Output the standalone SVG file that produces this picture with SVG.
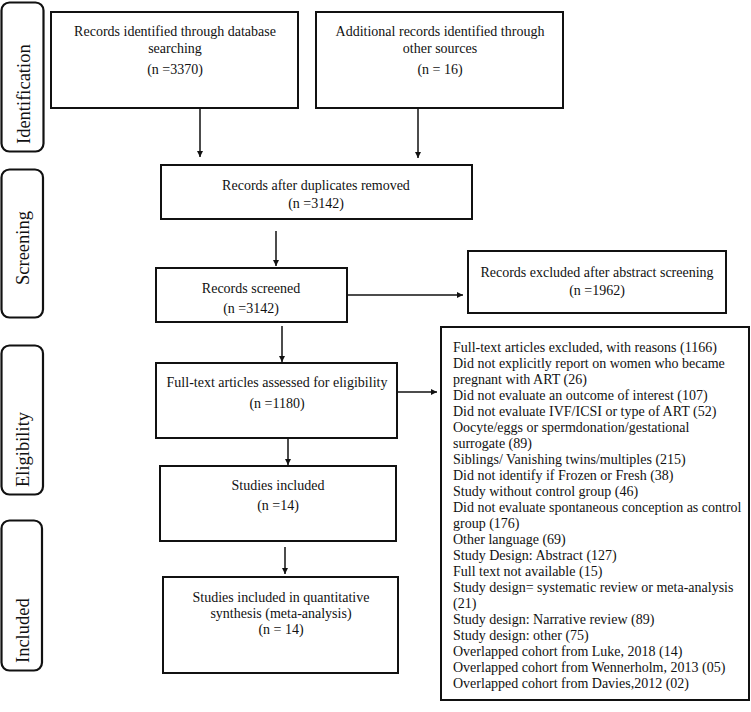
<svg xmlns="http://www.w3.org/2000/svg" width="751" height="712" viewBox="0 0 751 712">
<style>
text{font-family:"Liberation Serif","Times New Roman",serif;font-size:14px;fill:#111}
.c{text-anchor:middle}
.side{font-size:18.5px}
.box{fill:#fff;stroke:#111;stroke-width:2}
.sb{fill:#fff;stroke:#111;stroke-width:2.2}
.ln{stroke:#111;stroke-width:1.5;fill:none}
</style>
<defs>
<marker id="ah" viewBox="0 0 10 10" refX="10" refY="5" markerWidth="6" markerHeight="6" markerUnits="userSpaceOnUse" orient="auto">
<path d="M0,0 L10,5 L0,10 z" fill="#111"/>
</marker>
</defs>
<rect width="751" height="712" fill="#fff"/>

<g id="side-identification"><rect class="sb" x="1.5" y="2.5" width="42" height="149" rx="8"/><text class="side" transform="translate(30,144) rotate(-90)">Identification</text></g>
<g id="side-screening"><rect class="sb" x="1.5" y="169.5" width="41.5" height="148" rx="8"/><text class="side" transform="translate(29,285) rotate(-90)">Screening</text></g>
<g id="side-eligibility"><rect class="sb" x="1.5" y="345.5" width="41.5" height="149" rx="8"/><text class="side" transform="translate(29,487) rotate(-90)">Eligibility</text></g>
<g id="side-included"><rect class="sb" x="1.5" y="520.5" width="40.5" height="150" rx="8"/><text class="side" transform="translate(29,663) rotate(-90)">Included</text></g>

<g id="connectors">
<line class="ln" x1="200" y1="108" x2="200" y2="157" marker-end="url(#ah)"/>
<line class="ln" x1="418" y1="108" x2="418" y2="158" marker-end="url(#ah)"/>
<line class="ln" x1="276" y1="231" x2="276" y2="266" marker-end="url(#ah)"/>
<line class="ln" x1="343" y1="295" x2="463" y2="295" marker-end="url(#ah)"/>
<line class="ln" x1="282" y1="326" x2="282" y2="362" marker-end="url(#ah)"/>
<line class="ln" x1="397" y1="392" x2="437" y2="392" marker-end="url(#ah)"/>
<line class="ln" x1="288" y1="438" x2="288" y2="465" marker-end="url(#ah)"/>
<line class="ln" x1="285" y1="547" x2="285" y2="574" marker-end="url(#ah)"/>
</g>

<g id="db-records"><rect class="box" x="51" y="12" width="247" height="96"/>
<text class="c" x="175" y="36">Records identified through database</text>
<text class="c" x="175" y="53">searching</text>
<text class="c" x="175" y="74">(n =3370)</text></g>

<g id="other-records"><rect class="box" x="316" y="12" width="247" height="96"/>
<text class="c" x="440" y="36">Additional records identified through</text>
<text class="c" x="440" y="53">other sources</text>
<text class="c" x="440" y="74">(n = 16)</text></g>

<g id="duplicates-removed"><rect class="box" x="161" y="165" width="311" height="54"/>
<text class="c" x="316" y="190">Records after duplicates removed</text>
<text class="c" x="316" y="208">(n =3142)</text></g>

<g id="records-screened"><rect class="box" x="156" y="268" width="191" height="54"/>
<text class="c" x="251" y="293">Records screened</text>
<text class="c" x="251" y="313">(n =3142)</text></g>

<g id="records-excluded"><rect class="box" x="468" y="251" width="258" height="62"/>
<text class="c" x="597" y="277">Records excluded after abstract screening</text>
<text class="c" x="597" y="295">(n =1962)</text></g>

<g id="fulltext-assessed"><rect class="box" x="156" y="363" width="241" height="75"/>
<text class="c" x="277" y="387">Full-text articles assessed for eligibility</text>
<text class="c" x="277" y="408">(n =1180)</text></g>

<g id="fulltext-excluded"><rect class="box" x="441" y="327" width="308" height="373"/>
<text x="453" y="352">Full-text articles excluded, with reasons (1166)</text>
<text x="453" y="368">Did not explicitly report on women who became</text>
<text x="453" y="384">pregnant with ART (26)</text>
<text x="453" y="400">Did not evaluate an outcome of interest (107)</text>
<text x="453" y="416">Did not evaluate IVF/ICSI or type of ART (52)</text>
<text x="453" y="432">Oocyte/eggs or spermdonation/gestational</text>
<text x="453" y="448">surrogate (89)</text>
<text x="453" y="464">Siblings/ Vanishing twins/multiples (215)</text>
<text x="453" y="480">Did not identify if Frozen or Fresh (38)</text>
<text x="453" y="496">Study without control group (46)</text>
<text x="453" y="512">Did not evaluate spontaneous conception as control</text>
<text x="453" y="528">group (176)</text>
<text x="453" y="544">Other language (69)</text>
<text x="453" y="560">Study Design: Abstract (127)</text>
<text x="453" y="576">Full text not available (15)</text>
<text x="453" y="592">Study design= systematic review or meta-analysis</text>
<text x="453" y="608">(21)</text>
<text x="453" y="624">Study design: Narrative review (89)</text>
<text x="453" y="640">Study design: other (75)</text>
<text x="453" y="656">Overlapped cohort from Luke, 2018 (14)</text>
<text x="453" y="672">Overlapped cohort from Wennerholm, 2013 (05)</text>
<text x="453" y="688">Overlapped cohort from Davies,2012 (02)</text></g>

<g id="studies-included"><rect class="box" x="160" y="466" width="236" height="75"/>
<text class="c" x="278" y="490">Studies included</text>
<text class="c" x="278" y="510">(n =14)</text></g>

<g id="quantitative-synthesis"><rect class="box" x="163" y="577" width="235" height="96"/>
<text class="c" x="281" y="602">Studies included in quantitative</text>
<text class="c" x="281" y="618">synthesis (meta-analysis)</text>
<text class="c" x="281" y="634">(n = 14)</text></g>
</svg>
